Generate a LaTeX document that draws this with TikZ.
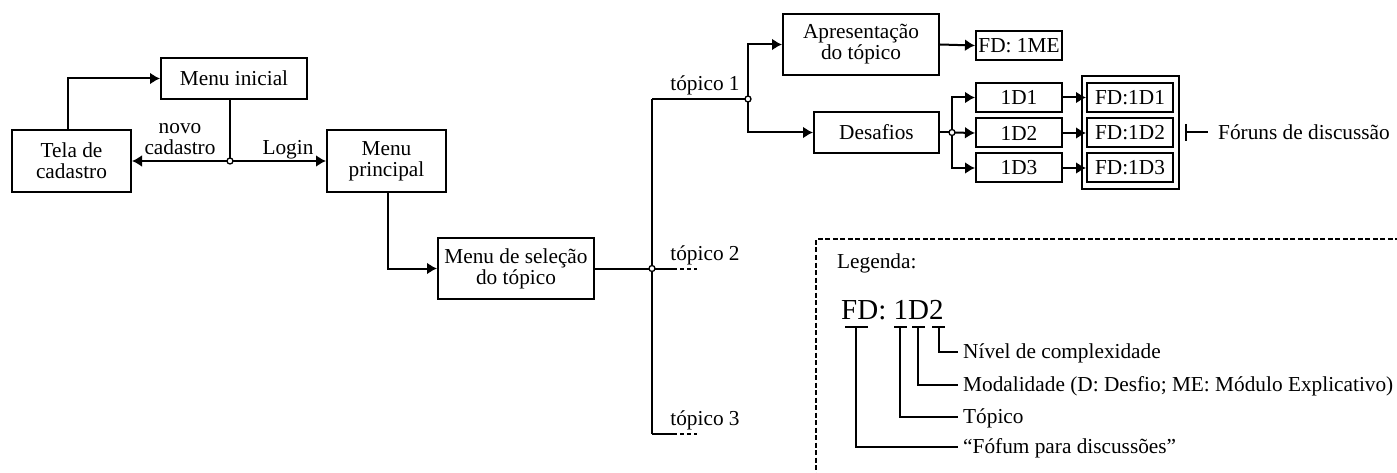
\documentclass[tikz,border=0pt]{standalone}
\usepackage{fontspec}
\setmainfont{Liberation Serif}
\usetikzlibrary{arrows.meta,fit}
\begin{document}
\begin{tikzpicture}[x=1pt,y=-1pt,
  every node/.style={font=\fontsize{21.3}{21}\selectfont, inner sep=0pt},
  box/.style={draw, line width=2pt, align=center},
  ln/.style={line width=2pt},
  arr/.style={line width=2pt, -{Latex[length=10pt,width=12pt]}},
  stub/.style={line width=2pt, dash pattern=on 4pt off 3pt},
  junc/.style={circle, draw, fill=white, line width=1.3pt, minimum size=6pt, inner sep=0pt},
  lbl/.style={anchor=base},
  legtxt/.style={anchor=base west},
  lead/.style={line width=1.8pt}]
\useasboundingbox (0,0) rectangle (1397,473);

% boxes
\node[box, minimum width=146pt, minimum height=41pt] (mi) at (234,78.5) {Menu inicial};
\node[box, minimum width=119pt, minimum height=62pt] (tc) at (71.5,161) {Tela de\\cadastro};
\node[box, minimum width=119pt, minimum height=62pt] (mp) at (386.5,161) {Menu\\principal};
\node[box, minimum width=156pt, minimum height=61pt] (ms) at (516,268.5) {Menu de seleção\\do tópico};
\node[box, minimum width=156pt, minimum height=61pt] (ap) at (861,44.5) {Apresentação\\do tópico};
\node[box, minimum width=125pt, minimum height=41pt] (de) at (876.5,132.5) {Desafios};
\node[box, minimum width=86pt, minimum height=29pt] (fme) at (1019,45.5) {FD: 1ME};
\node[box, minimum width=86pt, minimum height=29pt] (d1) at (1019,97.5) {1D1};
\node[box, minimum width=86pt, minimum height=29pt] (d2) at (1019,133) {1D2};
\node[box, minimum width=86pt, minimum height=29pt] (d3) at (1019,168) {1D3};
\node[box, minimum width=86pt, minimum height=29pt] (f1) at (1130,97.5) {FD:1D1};
\node[box, minimum width=86pt, minimum height=29pt] (f2) at (1130,133) {FD:1D2};
\node[box, minimum width=86pt, minimum height=29pt] (f3) at (1130,168) {FD:1D3};
\node[draw, line width=2pt, fit=(f1)(f3), inner xsep=4.5pt, inner ysep=5.5pt] (fo) {};

% junction coordinates
\coordinate (j1) at (230,161);
\coordinate (j2) at (652,268.5);
\coordinate (t1) at (652,99);
\coordinate (t3) at (652,434);
\coordinate (j3) at (748,99);
\coordinate (j4) at (952,132.5);
\coordinate (s2a) at (673,268.5);
\coordinate (s2b) at (697,268.5);
\coordinate (s3a) at (673,434);
\coordinate (s3b) at (697,434);

% connectors
\draw[ln] (mi.south -| j1) -- (j1);
\draw[arr] (j1) -- (tc.east);
\draw[arr] (j1) -- (mp.west);
\draw[arr] ([xshift=-3.5pt]tc.north) |- (mi.west);
\draw[arr] ([xshift=1.5pt]mp.south) |- (ms.west);
\draw[ln] (ms.east) -- (j2);
\draw[ln] (t1) -- (t3);
\draw[ln] (t1) -- (j3);
\draw[arr] (j3) |- (ap.west);
\draw[arr] (j3) |- (de.west);
\draw[ln] (de.east) -- (j4);
\draw[arr] (j4) |- (d1.west);
\draw[arr] (j4) -- (d2.west);
\draw[arr] (j4) |- (d3.west);
\draw[arr] (ap.east) -- (fme.west);
\draw[arr] (d1.east) -- (f1.west);
\draw[arr] (d2.east) -- (f2.west);
\draw[arr] (d3.east) -- (f3.west);
\draw[ln] (j2) -- (s2a);
\draw[stub] (s2a) -- (s2b);
\draw[ln] (t3) -- (s3a);
\draw[stub] (s3a) -- (s3b);

% junction dots
\node[junc] (jn1) at (j1) {};
\node[junc] (jn2) at (j2) {};
\node[junc] (jn3) at (j3) {};
\node[junc] (jn4) at (j4) {};

% labels
\node[anchor=south, align=center] (nc) at (180,155) {novo\\cadastro};
\node[lbl] (lg) at (288,155) {Login};
\node[lbl] (lt1) at (705,91) {tópico 1};
\node[lbl] (lt2) at (705,260) {tópico 2};
\node[lbl] (lt3) at (705,425) {tópico 3};

% forums label
\coordinate (tk) at (1186,132.5);
\coordinate (tke) at (1208,132.5);
\draw[ln] (1186,124) -- (1186,141);
\draw[ln] (tk) -- (tke);
\node[legtxt] (fdl) at (1218,140) {Fóruns de discussão};

% legend
\draw[line width=1.6pt, dash pattern=on 5pt off 2.5pt] (1400,239) -- (816,239) -- (816,476);
\node[legtxt] (leg) at (837,268) {Legenda:};
\node[legtxt, font=\fontsize{29}{29}\selectfont] (code) at (841,319) {FD: 1D2};

\coordinate (c4) at (958,352);
\coordinate (c3) at (958,385);
\coordinate (c2) at (958,417);
\coordinate (c1) at (958,447);
\draw[lead] (845,327) -- (868,327);
\draw[lead] (856,327) |- (c1);
\draw[lead] (894,327) -- (907,327);
\draw[lead] (900,327) |- (c2);
\draw[lead] (912,327) -- (925,327);
\draw[lead] (918,327) |- (c3);
\draw[lead] (932,327) -- (945,327);
\draw[lead] (939,327) |- (c4);
\node[legtxt] (n4) at (963,358.5) {Nível de complexidade};
\node[legtxt] (n3) at (963,391) {Modalidade (D: Desfio; ME: Módulo Explicativo)};
\node[legtxt] (n2) at (963,423) {Tópico};
\node[legtxt] (n1) at (963,453) {“Fófum para discussões”};
\end{tikzpicture}
\end{document}
